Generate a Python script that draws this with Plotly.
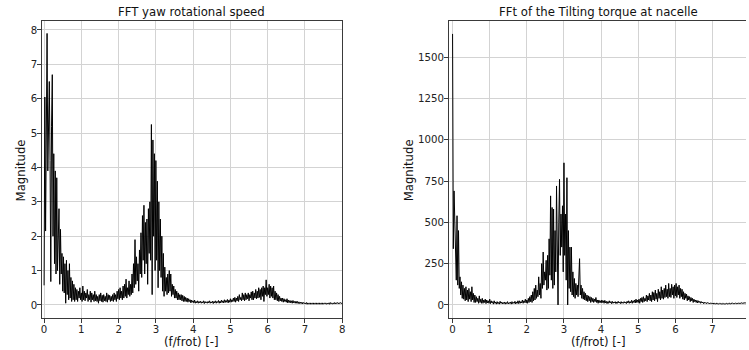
import plotly.graph_objects as go

# FFT bin spacing in (f/frot)
BIN = 0.02

# Magnitude of FFT of yaw rotational speed, one value per bin from f/frot = 0
yaw_mag = [
    0.57, 6.05, 2.15, 5.9, 7.9, 3.9, 6.1, 6.5, 4.2, 0.68,
    5.2, 6.7, 2.0, 4.4, 1.2, 3.9, 0.9, 3.7, 1.0, 2.5,
    2.8, 0.6, 2.2, 0.9, 1.5, 0.4, 1.4, 0.35, 1.2, 0.05,
    1.3, 0.3, 1.0, 0.15, 1.2, 0.2, 0.8, 0.1, 0.7, 0.15,
    0.6, 0.1, 0.5, 0.15, 0.45, 0.1, 0.4, 0.2, 0.5, 0.15,
    0.35, 0.1, 0.55, 0.15, 0.4, 0.12, 0.35, 0.2, 0.45, 0.1,
    0.3, 0.15, 0.4, 0.08, 0.35, 0.15, 0.3, 0.1, 0.4, 0.12,
    0.3, 0.1, 0.25, 0.05, 0.3, 0.12, 0.35, 0.1, 0.28, 0.08,
    0.3, 0.12, 0.25, 0.1, 0.35, 0.08, 0.3, 0.15, 0.28, 0.1,
    0.25, 0.12, 0.3, 0.1, 0.35, 0.15, 0.3, 0.1, 0.4, 0.18,
    0.45, 0.15, 0.5, 0.2, 0.4, 0.15, 0.55, 0.2, 0.6, 0.25,
    0.75, 0.2, 0.5, 0.3, 0.7, 0.25, 0.6, 0.3, 0.9, 0.35,
    1.2, 0.5, 1.9, 0.6, 1.4, 0.7, 1.2, 0.4, 1.6, 0.9,
    2.1, 0.8, 2.6, 1.3, 2.9, 0.9, 2.4, 1.2, 2.5, 0.6,
    2.8, 1.5, 3.0, 1.3, 5.25, 0.3, 4.8, 2.0, 4.4, 1.0,
    4.2, 1.3, 3.6, 0.5, 3.0, 1.0, 2.5, 0.8, 2.0, 0.4,
    1.5, 0.25, 1.1, 0.4, 0.8, 0.3, 0.9, 0.35, 1.0, 0.4,
    0.9, 0.25, 0.6, 0.3, 0.55, 0.2, 0.45, 0.2, 0.4, 0.15,
    0.35, 0.15, 0.3, 0.15, 0.3, 0.12, 0.28, 0.1, 0.25, 0.1,
    0.22, 0.1, 0.2, 0.08, 0.18, 0.1, 0.15, 0.06, 0.14, 0.08,
    0.12, 0.06, 0.14, 0.05, 0.1, 0.06, 0.12, 0.05, 0.1, 0.06,
    0.11, 0.05, 0.09, 0.06, 0.12, 0.04, 0.1, 0.06, 0.09, 0.05,
    0.1, 0.06, 0.12, 0.05, 0.09, 0.06, 0.11, 0.04, 0.1, 0.06,
    0.12, 0.05, 0.1, 0.07, 0.13, 0.05, 0.11, 0.06, 0.14, 0.07,
    0.12, 0.06, 0.15, 0.07, 0.13, 0.08, 0.16, 0.06, 0.14, 0.08,
    0.18, 0.08, 0.15, 0.1, 0.2, 0.1, 0.22, 0.08, 0.2, 0.12,
    0.25, 0.1, 0.3, 0.15, 0.22, 0.12, 0.35, 0.15, 0.3, 0.12,
    0.35, 0.15, 0.3, 0.18, 0.35, 0.12, 0.3, 0.2, 0.38, 0.15,
    0.4, 0.15, 0.35, 0.2, 0.45, 0.18, 0.4, 0.2, 0.5, 0.22,
    0.45, 0.15, 0.5, 0.25, 0.55, 0.1, 0.5, 0.3, 0.73, 0.25,
    0.5, 0.3, 0.6, 0.2, 0.55, 0.25, 0.5, 0.2, 0.55, 0.15,
    0.4, 0.15, 0.35, 0.12, 0.3, 0.1, 0.25, 0.12, 0.2, 0.1,
    0.2, 0.08, 0.18, 0.1, 0.15, 0.08, 0.18, 0.06, 0.14, 0.07,
    0.13, 0.06, 0.12, 0.05, 0.13, 0.06, 0.1, 0.05, 0.11, 0.05,
    0.1, 0.04, 0.09, 0.04, 0.08, 0.04, 0.08, 0.03, 0.07, 0.04,
    0.06, 0.03, 0.07, 0.02, 0.06, 0.03, 0.05, 0.02, 0.06, 0.03,
    0.05, 0.02, 0.06, 0.03, 0.05, 0.02, 0.06, 0.03, 0.05, 0.02,
    0.06, 0.03, 0.05, 0.02, 0.06, 0.03, 0.05, 0.03, 0.06, 0.02,
    0.05, 0.03, 0.06, 0.02, 0.07, 0.03, 0.05, 0.03, 0.06, 0.03,
    0.07, 0.03, 0.06, 0.04, 0.07, 0.03, 0.06, 0.04, 0.07, 0.04,
    0.06,
]

# Magnitude of FFT of tilting torque at nacelle
tilt_mag = [
    1640, 340, 690, 480, 360, 150, 540, 120, 450, 100,
    170, 60, 140, 40, 120, 35, 100, 25, 110, 30,
    90, 20, 100, 35, 80, 20, 110, 30, 70, 15,
    60, 15, 50, 20, 40, 10, 55, 15, 35, 10,
    40, 10, 30, 15, 35, 8, 30, 12, 25, 10,
    35, 8, 25, 12, 20, 5, 25, 10, 18, 5,
    20, 8, 15, 5, 22, 10, 18, 6, 15, 8,
    18, 5, 15, 8, 20, 6, 14, 10, 18, 5,
    20, 8, 15, 10, 22, 6, 18, 10, 25, 8,
    25, 10, 20, 12, 30, 10, 25, 15, 35, 12,
    30, 10, 40, 15, 50, 20, 60, 15, 80, 25,
    100, 30, 120, 40, 90, 50, 170, 60, 130, 40,
    250, 100, 320, 120, 200, 150, 270, 90, 300, 100,
    400, 180, 660, 150, 590, 100, 580, 120, 450, 200,
    720, 250, 0, 500, 760, 300, 550, 350, 600, 200,
    860, 300, 550, 150, 770, 0, 450, 100, 350, 80,
    350, 60, 200, 50, 160, 40, 130, 60, 120, 50,
    150, 280, 60, 120, 40, 100, 35, 80, 30, 70,
    25, 60, 20, 55, 25, 50, 15, 45, 20, 40,
    15, 35, 20, 45, 15, 30, 10, 30, 15, 25,
    12, 30, 15, 25, 10, 28, 12, 22, 8, 20,
    10, 25, 12, 20, 8, 22, 10, 18, 12, 20,
    8, 18, 10, 22, 12, 18, 8, 20, 10, 16,
    10, 20, 12, 18, 8, 22, 12, 25, 10, 20,
    12, 28, 10, 25, 15, 30, 12, 35, 15, 30,
    15, 35, 10, 40, 20, 45, 15, 50, 20, 40,
    25, 60, 20, 55, 30, 70, 25, 60, 20, 80,
    30, 75, 25, 90, 35, 70, 20, 95, 40, 80,
    30, 110, 40, 90, 35, 100, 45, 120, 50, 95,
    40, 130, 50, 100, 45, 125, 60, 110, 40, 120,
    55, 130, 45, 110, 60, 120, 40, 100, 50, 95,
    35, 80, 30, 70, 40, 65, 25, 55, 30, 50,
    20, 45, 25, 40, 15, 35, 20, 30, 15, 28,
    12, 25, 15, 22, 10, 20, 12, 18, 8, 16,
    10, 15, 8, 14, 10, 12, 6, 12, 8, 11,
    6, 12, 5, 10, 7, 11, 5, 9, 6, 10,
    5, 9, 6, 10, 4, 9, 6, 8, 5, 10,
    6, 10, 5, 11, 7, 9, 6, 12, 7, 10,
    7, 12, 8, 11, 6, 13, 8, 12, 9, 14,
    8, 14, 10, 13, 9, 15, 10, 14, 11, 15,
    12,
]

x_ticks_left = [0, 1, 2, 3, 4, 5, 6, 7, 8]
y_ticks_left = [0, 1, 2, 3, 4, 5, 6, 7, 8]
x_ticks_right = [0, 1, 2, 3, 4, 5, 6, 7, 8]
y_ticks_right = [0, 250, 500, 750, 1000, 1250, 1500]

title_left = "FFT yaw rotational speed"
title_right = "FFt of the Tilting torque at nacelle"
xlabel = "(f/frot) [-]"
ylabel = "Magnitude"

freq_yaw = [round(i * BIN, 2) for i in range(len(yaw_mag))]
freq_tilt = [round(i * BIN, 2) for i in range(len(tilt_mag))]

W, H = 749, 350
FONT = "DejaVu Sans"
SPINE = "#3a3a3a"
GRID = "#d3d3d3"

# pixel geometry
L1, R1 = 41, 343
L2, R2 = 450, 749
TOP, BOT = 20.7, 318

def px(x):
    return x / W

def py(y):
    return 1 - y / H

fig = go.Figure()
fig.add_trace(go.Scatter(x=freq_yaw, y=yaw_mag, mode="lines",
                         line=dict(color="black", width=1), xaxis="x", yaxis="y",
                         showlegend=False))
fig.add_trace(go.Scatter(x=freq_tilt, y=tilt_mag, mode="lines",
                         line=dict(color="black", width=1), xaxis="x2", yaxis="y2",
                         showlegend=False))

common_axis = dict(showgrid=True, gridcolor=GRID, gridwidth=1, zeroline=False,
                   showline=True, linecolor=SPINE, linewidth=1,
                   ticks="outside", ticklen=3.5, tickcolor=SPINE, tickwidth=1,
                   tickfont=dict(family=FONT, size=10.2, color="#222"))

fig.update_layout(
    width=W, height=H, margin=dict(l=0, r=0, t=0, b=0),
    paper_bgcolor="white", plot_bgcolor="white",
    xaxis=dict(domain=[px(L1), px(R1)], range=[-0.062, 8.0], tickvals=x_ticks_left,
               mirror=True, anchor="y", ticklabelstandoff=-2, **common_axis),
    yaxis=dict(domain=[py(BOT), py(TOP)], range=[-0.38, 8.27], tickvals=y_ticks_left,
               mirror=True, anchor="x", ticklabelstandoff=-2, **common_axis),
    xaxis2=dict(domain=[px(L2), px(R2)], range=[-0.107, 7.902], tickvals=x_ticks_right,
                mirror=True, anchor="y2", ticklabelstandoff=-2, **common_axis),
    yaxis2=dict(domain=[py(BOT), py(TOP)], range=[-79, 1720], tickvals=y_ticks_right,
                mirror=False, anchor="x2", ticklabelstandoff=-2, **common_axis),
)

title_font = dict(family=FONT, size=11.7, color="#111")
annots = [
    dict(text=title_left, x=px((L1 + R1) / 2), y=py(12), xanchor="center", yanchor="middle"),
    dict(text=title_right, x=px(601), y=py(12), xanchor="center", yanchor="middle"),
    dict(text=xlabel, x=px((L1 + R1) / 2), y=py(341.5), xanchor="center", yanchor="middle"),
    dict(text=xlabel, x=px(601), y=py(341.5), xanchor="center", yanchor="middle"),
    dict(text=ylabel, x=px(21), y=py(170.5), xanchor="center", yanchor="middle", textangle=-90),
    dict(text=ylabel, x=px(411), y=py(170.5), xanchor="center", yanchor="middle", textangle=-90),
]
for a in annots:
    fig.add_annotation(xref="paper", yref="paper", showarrow=False, font=title_font, **a)

fig.write_html("out.html")
